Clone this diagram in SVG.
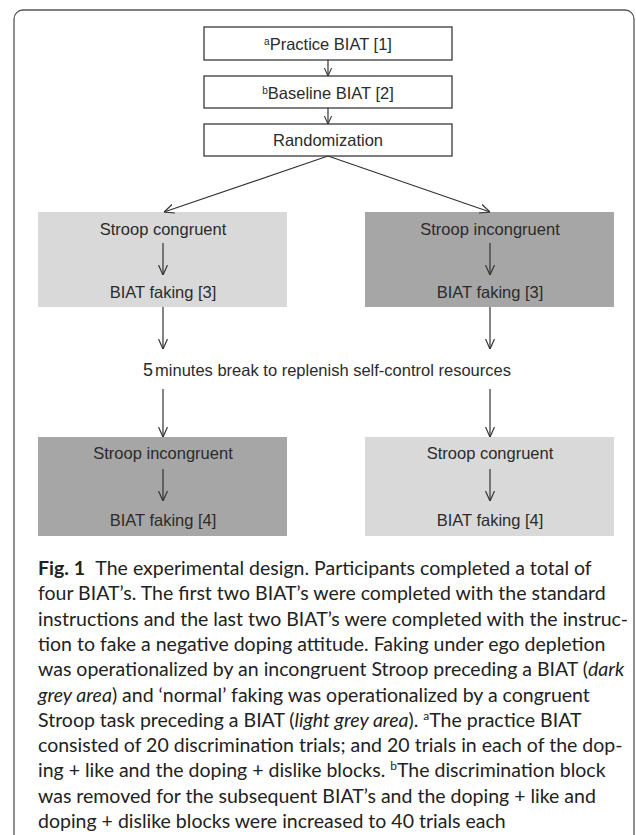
<svg xmlns="http://www.w3.org/2000/svg" width="636" height="835" viewBox="0 0 636 835">
<defs>
<style>
.frame{fill:none;stroke:#555;stroke-width:1.3}
.wbox{fill:#fff;stroke:#3a3a3a;stroke-width:1.3}
.light{fill:#d9d9d9}
.dark{fill:#a6a6a6}
.t{font-family:"Liberation Sans",Arial,sans-serif;font-size:16.5px;fill:#2b2b2b;text-anchor:middle}
.sup{font-size:10px}
.ln{stroke:#333;stroke-width:1.2;fill:none}
.cap{font-family:Lato,"Noto Sans",sans-serif;font-size:19.5px;fill:#222}
.b{font-weight:bold}
.i{font-style:italic}
.cs{font-size:12px}
</style>
<marker id="ah" viewBox="0 0 10 10" refX="10" refY="5" markerWidth="10" markerHeight="10" markerUnits="userSpaceOnUse" orient="auto">
<path d="M0,0.5 L10,5 L0,9.5" fill="none" stroke="#333" stroke-width="1.2"/>
</marker>
<marker id="ahs" viewBox="0 0 10 10" refX="10" refY="5" markerWidth="8" markerHeight="10" markerUnits="userSpaceOnUse" orient="auto">
<path d="M0,0.5 L10,5 L0,9.5" fill="none" stroke="#333" stroke-width="1.3"/>
</marker>
</defs>
<rect class="frame" x="14" y="10" width="620" height="900" rx="9"/>
<g id="n-practice"><rect class="wbox" x="204" y="27" width="248" height="33"/><text class="t" x="328" y="50"><tspan class="sup" dy="-5">a</tspan><tspan dy="5">Practice BIAT [1]</tspan></text></g>
<g id="n-baseline"><rect class="wbox" x="204" y="76" width="248" height="32"/><text class="t" x="328" y="99"><tspan class="sup" dy="-5">b</tspan><tspan dy="5">Baseline BIAT [2]</tspan></text></g>
<g id="n-random"><rect class="wbox" x="204" y="124" width="248" height="32"/><text class="t" x="328" y="146">Randomization</text></g>
<g id="n-left1"><rect class="light" x="38" y="212" width="249" height="95"/><text class="t" x="163" y="235">Stroop congruent</text><line class="ln" x1="163" y1="243" x2="163" y2="275" marker-end="url(#ah)"/><text class="t" x="163" y="298">BIAT faking [3]</text></g>
<g id="n-right1"><rect class="dark" x="365" y="212" width="249" height="95"/><text class="t" x="490" y="235">Stroop incongruent</text><line class="ln" x1="490" y1="243" x2="490" y2="275" marker-end="url(#ah)"/><text class="t" x="490" y="298">BIAT faking [3]</text></g>
<g id="n-break"><text class="t" x="327" y="376"><tspan font-size="18">5</tspan><tspan dx="2">minutes break to replenish self-control resources</tspan></text></g>
<g id="n-left2"><rect class="dark" x="38" y="437" width="249" height="99"/><text class="t" x="163" y="459">Stroop incongruent</text><line class="ln" x1="163" y1="469" x2="163" y2="501" marker-end="url(#ah)"/><text class="t" x="163" y="526">BIAT faking [4]</text></g>
<g id="n-right2"><rect class="light" x="365" y="437" width="249" height="99"/><text class="t" x="490" y="459">Stroop congruent</text><line class="ln" x1="490" y1="469" x2="490" y2="501" marker-end="url(#ah)"/><text class="t" x="490" y="526">BIAT faking [4]</text></g>
<g id="connectors">
<line class="ln" x1="328" y1="60" x2="328" y2="76" marker-end="url(#ahs)"/>
<line class="ln" x1="328" y1="108" x2="328" y2="124" marker-end="url(#ahs)"/>
<line class="ln" x1="328" y1="156" x2="164" y2="212" marker-end="url(#ah)"/>
<line class="ln" x1="328" y1="156" x2="490" y2="212" marker-end="url(#ah)"/>
<line class="ln" x1="163" y1="307" x2="163" y2="349" marker-end="url(#ah)"/>
<line class="ln" x1="490" y1="307" x2="490" y2="349" marker-end="url(#ah)"/>
<line class="ln" x1="163" y1="389" x2="163" y2="437" marker-end="url(#ah)"/>
<line class="ln" x1="490" y1="389" x2="490" y2="437" marker-end="url(#ah)"/>
</g>
<g id="caption" class="cap">
<text x="38" y="575"><tspan class="b">Fig. 1</tspan><tspan dx="6"> The experimental design. Participants completed a total of</tspan></text>
<text x="38" y="600.3">four BIAT’s. The first two BIAT’s were completed with the standard</text>
<text x="38" y="625.6">instructions and the last two BIAT’s were completed with the instruc-</text>
<text x="38" y="650.9">tion to fake a negative doping attitude. Faking under ego depletion</text>
<text x="38" y="676.2">was operationalized by an incongruent Stroop preceding a BIAT (<tspan class="i">dark</tspan></text>
<text x="38" y="701.5"><tspan class="i">grey area</tspan>) and ‘normal’ faking was operationalized by a congruent</text>
<text x="38" y="726.8">Stroop task preceding a BIAT (<tspan class="i">light grey area</tspan>). <tspan class="cs" dy="-7">a</tspan><tspan dy="7">The practice BIAT</tspan></text>
<text x="38" y="752.1">consisted of 20 discrimination trials; and 20 trials in each of the dop-</text>
<text x="38" y="777.4">ing + like and the doping + dislike blocks. <tspan class="cs" dy="-7">b</tspan><tspan dy="7">The discrimination block</tspan></text>
<text x="38" y="802.7">was removed for the subsequent BIAT’s and the doping + like and</text>
<text x="38" y="828">doping + dislike blocks were increased to 40 trials each</text>
</g>
</svg>
